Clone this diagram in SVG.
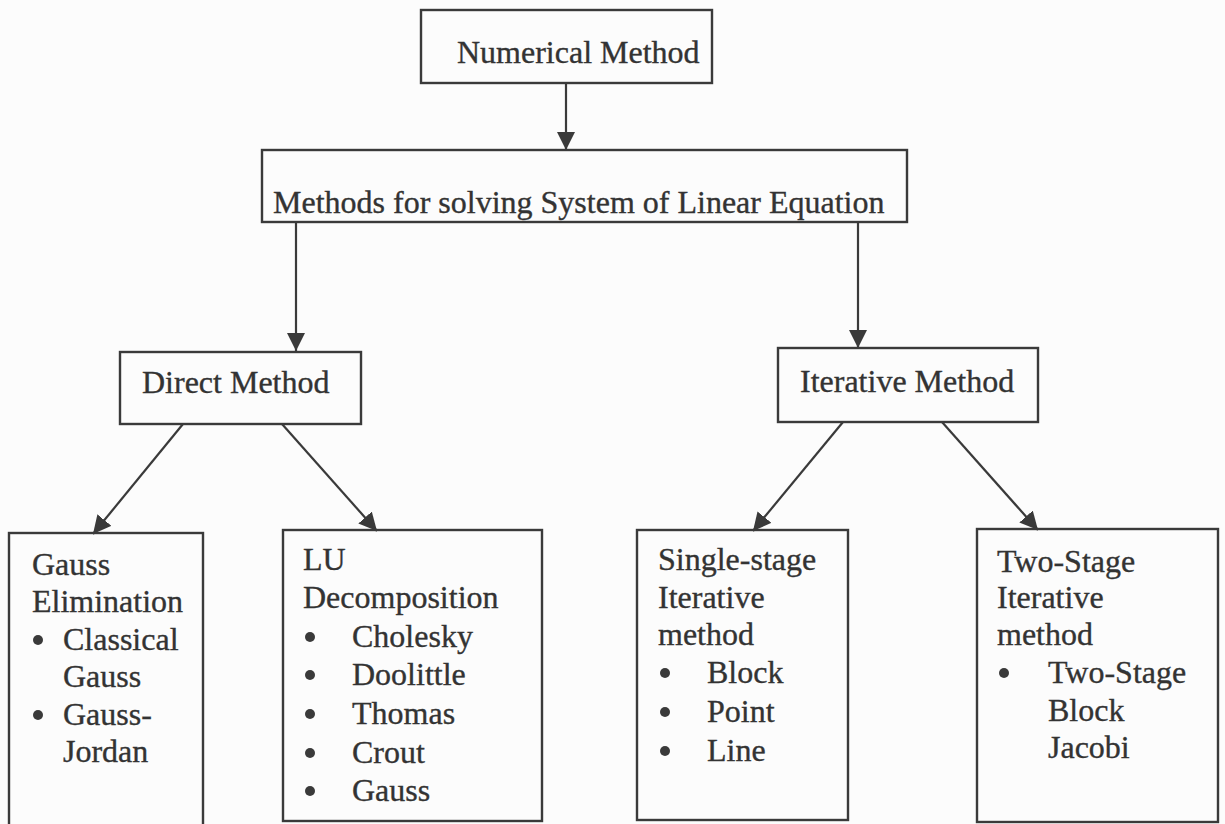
<svg xmlns="http://www.w3.org/2000/svg" width="1225" height="824" viewBox="0 0 1225 824">
<style>
.box{fill:none;stroke:#3a3a3a;stroke-width:2.4}
.t{font-family:"Liberation Serif","Times New Roman",serif;font-size:32px;fill:#333;stroke:#333;stroke-width:0.35}
.c{stroke:#3a3a3a;stroke-width:2.2;fill:none}
.b{fill:#3a3a3a}
</style>
<defs>
<marker id="ah" markerUnits="userSpaceOnUse" markerWidth="20" markerHeight="20" refX="18" refY="9" orient="auto">
<path d="M0,0 L18,9 L0,18 z" fill="#3a3a3a"/>
</marker>
</defs>
<rect width="1225" height="824" fill="#fcfcfc"/>
<g id="connectors">
<line class="c" x1="566" y1="83" x2="566" y2="150" marker-end="url(#ah)"/>
<line class="c" x1="296" y1="222" x2="296" y2="351" marker-end="url(#ah)"/>
<line class="c" x1="858" y1="222" x2="858" y2="348" marker-end="url(#ah)"/>
<line class="c" x1="183" y1="424" x2="93" y2="534" marker-end="url(#ah)"/>
<line class="c" x1="282" y1="424" x2="377" y2="531" marker-end="url(#ah)"/>
<line class="c" x1="843" y1="422" x2="753" y2="531" marker-end="url(#ah)"/>
<line class="c" x1="942" y1="422" x2="1038" y2="530" marker-end="url(#ah)"/>
</g>
<g id="numerical">
<rect class="box" x="421" y="10" width="291" height="73"/>
<text class="t" x="457" y="63">Numerical Method</text>
</g>
<g id="methods">
<rect class="box" x="262" y="150" width="645" height="72"/>
<text class="t" x="273" y="213">Methods for solving System of Linear Equation</text>
</g>
<g id="direct">
<rect class="box" x="120" y="352" width="241" height="72"/>
<text class="t" x="142" y="393">Direct Method</text>
</g>
<g id="iterative">
<rect class="box" x="778" y="348" width="260" height="74"/>
<text class="t" x="800" y="392">Iterative Method</text>
</g>
<g id="gauss">
<rect class="box" x="9" y="533" width="194" height="300"/>
<text class="t" x="32" y="575">Gauss</text>
<text class="t" x="32" y="612">Elimination</text>
<circle class="b" cx="38" cy="640" r="5"/>
<text class="t" x="63" y="650">Classical</text>
<text class="t" x="63" y="687">Gauss</text>
<circle class="b" cx="38" cy="715" r="5"/>
<text class="t" x="63" y="725">Gauss-</text>
<text class="t" x="63" y="762">Jordan</text>
</g>
<g id="lu">
<rect class="box" x="283" y="530" width="259" height="291"/>
<text class="t" x="303" y="570">LU</text>
<text class="t" x="303" y="608">Decomposition</text>
<circle class="b" cx="310" cy="637" r="5"/>
<text class="t" x="352" y="647">Cholesky</text>
<circle class="b" cx="310" cy="675" r="5"/>
<text class="t" x="352" y="685">Doolittle</text>
<circle class="b" cx="310" cy="714" r="5"/>
<text class="t" x="352" y="724">Thomas</text>
<circle class="b" cx="310" cy="753" r="5"/>
<text class="t" x="352" y="763">Crout</text>
<circle class="b" cx="310" cy="791" r="5"/>
<text class="t" x="352" y="801">Gauss</text>
</g>
<g id="single">
<rect class="box" x="637" y="530" width="211" height="290"/>
<text class="t" x="658" y="570">Single-stage</text>
<text class="t" x="658" y="608">Iterative</text>
<text class="t" x="658" y="645">method</text>
<circle class="b" cx="665" cy="673" r="5"/>
<text class="t" x="707" y="683">Block</text>
<circle class="b" cx="665" cy="712" r="5"/>
<text class="t" x="707" y="722">Point</text>
<circle class="b" cx="665" cy="751" r="5"/>
<text class="t" x="707" y="761">Line</text>
</g>
<g id="twostage">
<rect class="box" x="977" y="529" width="241" height="293"/>
<text class="t" x="997" y="572">Two-Stage</text>
<text class="t" x="997" y="608">Iterative</text>
<text class="t" x="997" y="645">method</text>
<circle class="b" cx="1004" cy="673" r="5"/>
<text class="t" x="1048" y="683">Two-Stage</text>
<text class="t" x="1048" y="721">Block</text>
<text class="t" x="1048" y="758">Jacobi</text>
</g>
</svg>
